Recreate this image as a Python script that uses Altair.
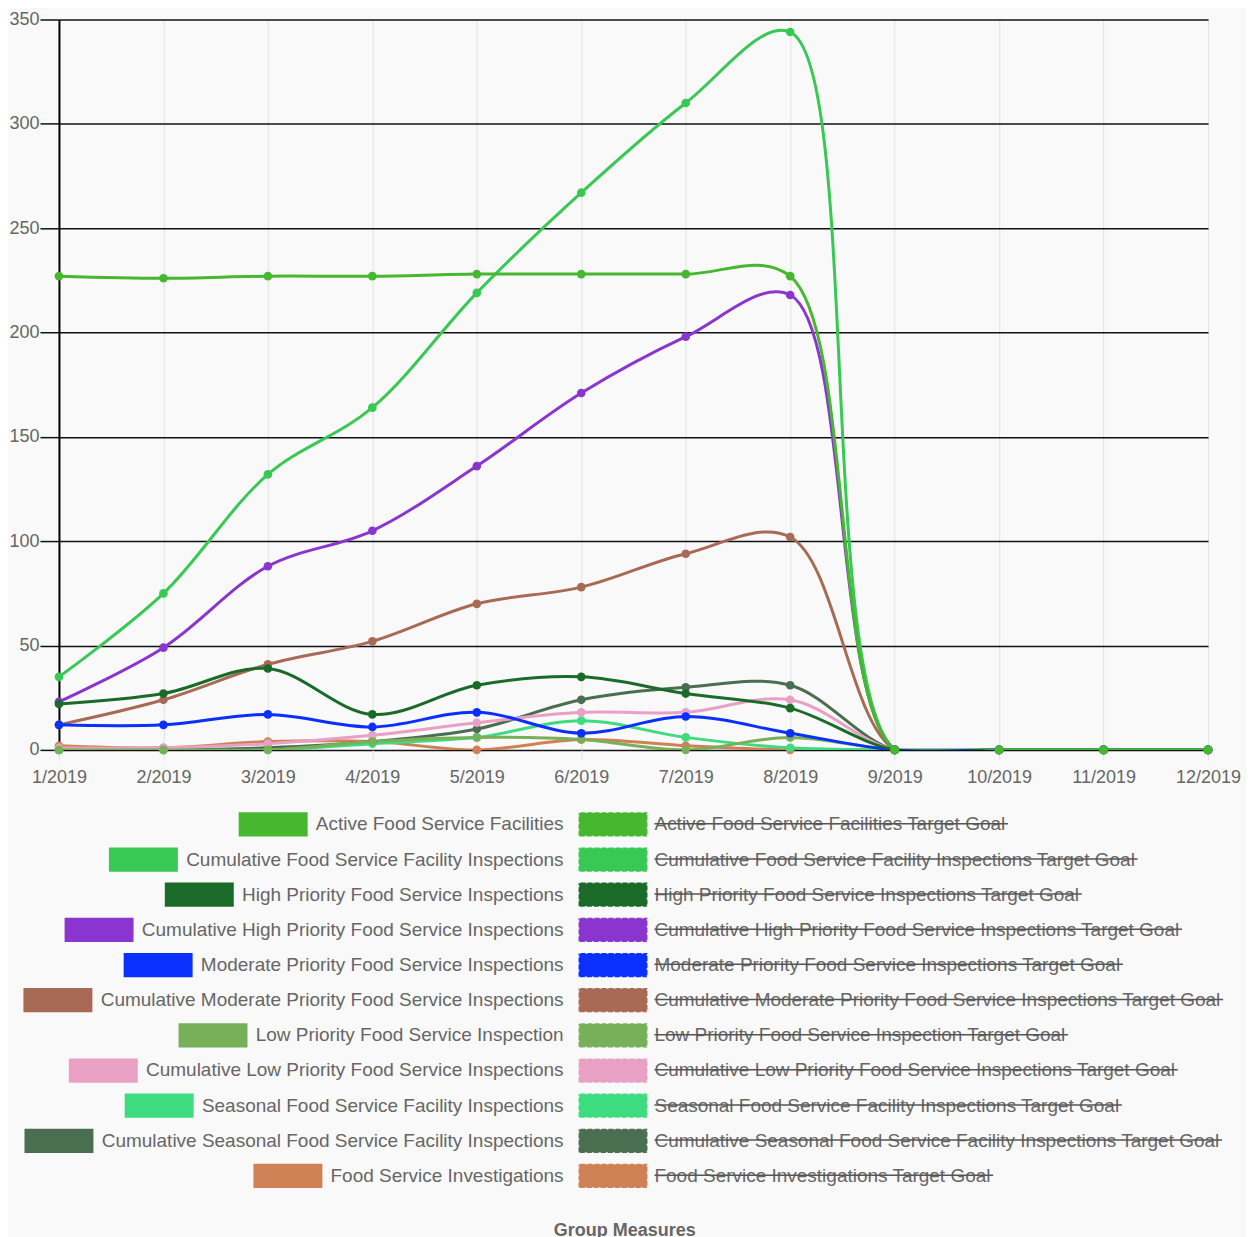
import altair as alt
import pandas as pd

months = ["1/2019", "2/2019", "3/2019", "4/2019", "5/2019", "6/2019",
          "7/2019", "8/2019", "9/2019", "10/2019", "11/2019", "12/2019"]

series_names = [
    "Active Food Service Facilities",
    "Cumulative Food Service Facility Inspections",
    "High Priority Food Service Inspections",
    "Cumulative High Priority Food Service Inspections",
    "Moderate Priority Food Service Inspections",
    "Cumulative Moderate Priority Food Service Inspections",
    "Low Priority Food Service Inspection",
    "Cumulative Low Priority Food Service Inspections",
    "Seasonal Food Service Facility Inspections",
    "Cumulative Seasonal Food Service Facility Inspections",
    "Food Service Investigations",
]
series_colors = ["#45b82f", "#38c954", "#1a6b2a", "#8a35d0", "#0a30ff", "#a86a55",
                 "#78b05a", "#e8a0c4", "#3ddc80", "#4a6e50", "#d08055"]

active = [227, 226, 227, 227, 228, 228, 228, 227, 0, 0, 0, 0]
cum_facility = [35, 75, 132, 164, 219, 267, 310, 344, 0, 0, 0, 0]
high = [22, 27, 39, 17, 31, 35, 27, 20, 0, 0, 0, 0]
cum_high = [23, 49, 88, 105, 136, 171, 198, 218, 0, 0, 0, 0]
moderate = [12, 12, 17, 11, 18, 8, 16, 8, 0, 0, 0, 0]
cum_moderate = [12, 24, 41, 52, 70, 78, 94, 102, 0, 0, 0, 0]
low = [0, 0, 0, 4, 6, 5, 0, 6, 0, 0, 0, 0]
cum_low = [1, 1, 3, 7, 13, 18, 18, 24, 0, 0, 0, 0]
seasonal = [0, 0, 0, 3, 6, 14, 6, 1, 0, 0, 0, 0]
cum_seasonal = [0, 0, 1, 4, 10, 24, 30, 31, 0, 0, 0, 0]
investigations = [2, 1, 4, 4, 0, 5, 2, 0, 0, 0, 0, 0]

series_values = [active, cum_facility, high, cum_high, moderate, cum_moderate,
                 low, cum_low, seasonal, cum_seasonal, investigations]

target_suffix = " Target Goal"
legend_title = "Group Measures"

# ---------- main line chart ----------
rows = []
for name, vals in reversed(list(zip(series_names, series_values))):
    for i, (m, v) in enumerate(zip(months, vals)):
        rows.append({"series": name, "month": m, "idx": i, "value": v})
df = pd.DataFrame(rows)

color_scale = alt.Scale(domain=series_names, range=series_colors)
FONT = "Liberation Sans"

x_enc = alt.X("month:N", sort=months,
              scale=alt.Scale(type="point", padding=0),
              axis=alt.Axis(title=None, labelAngle=0, grid=True, gridColor="#e2e2e2",
                            gridWidth=1, tickColor="#e2e2e2", tickSize=10,
                            labelPadding=9, labelFontSize=18, labelColor="#666",
                            labelFont=FONT, domain=False))
y_enc = alt.Y("value:Q", scale=alt.Scale(domain=[0, 350], nice=False),
              axis=alt.Axis(values=[0, 50, 100, 150, 200, 250, 300, 350], title=None,
                            gridColor="#111", gridWidth=1.5, tickColor="#111",
                            tickWidth=1.5, tickSize=19, labelPadding=1,
                            labelFontSize=18, labelColor="#666", labelFont=FONT,
                            domainColor="#000", domainWidth=2,
                            minExtent=50, maxExtent=50))
c_enc = alt.Color("series:N", scale=color_scale, legend=None)

mbase = alt.Chart(df).encode(x=x_enc, y=y_enc, color=c_enc)
lines = mbase.mark_line(interpolate="catmull-rom", strokeWidth=3, clip=True).encode(
    order=alt.Order("idx:Q"))
points = mbase.mark_circle(size=75, opacity=1)
main = alt.layer(lines, points).properties(width=1150, height=731)

# ---------- custom legend (two columns, right column struck through) ----------
CW = {" ": 278, "A": 667, "C": 722, "F": 611, "G": 778, "H": 722, "I": 278, "L": 556,
      "M": 833, "P": 667, "S": 667, "T": 611, "a": 556, "c": 500, "d": 556, "e": 556,
      "g": 556, "h": 556, "i": 222, "l": 222, "m": 833, "n": 556, "o": 556, "p": 556,
      "r": 333, "s": 500, "t": 278, "u": 556, "v": 500, "w": 722, "y": 500}
FS = 19


def text_w(s):
    return sum(CW.get(c, 556) for c in s) / 1000.0 * FS


LW = 1150
split = 512
sw_w = 69
half_h = 0.345
leg_rows = []
for r, name in enumerate(series_names):
    tname = name + target_suffix
    lt_x = split - 7
    l_sw_x2 = lt_x - text_w(name) - 8
    r_sw_x = split + 8
    r_sw_x2 = r_sw_x + sw_w
    rt_x = r_sw_x2 + 7
    leg_rows.append({
        "row": r, "name": name, "tname": tname,
        "lt_x": lt_x, "l_sw_x": l_sw_x2 - sw_w, "l_sw_x2": l_sw_x2,
        "r_sw_x": r_sw_x, "r_sw_x2": r_sw_x2, "rt_x": rt_x,
        "strike_x2": rt_x + text_w(tname),
        "y1": r - half_h, "y2": r + half_h, "ys": r - 0.02,
    })
ldf = pd.DataFrame(leg_rows)

xs = alt.Scale(domain=[0, LW], nice=False, zero=False)
ys = alt.Scale(domain=[-0.5, len(series_names) - 0.5], reverse=True, nice=False, zero=False)
base = alt.Chart(ldf)
col = alt.Color("name:N", scale=color_scale, legend=None)

l_rect = base.mark_rect().encode(
    x=alt.X("l_sw_x:Q", scale=xs, axis=None), x2="l_sw_x2:Q",
    y=alt.Y("y1:Q", scale=ys, axis=None), y2="y2:Q", color=col)
l_text = base.mark_text(align="right", baseline="middle", fontSize=FS, color="#666",
                        font=FONT).encode(
    x=alt.X("lt_x:Q", scale=xs, axis=None), y=alt.Y("row:Q", scale=ys, axis=None),
    text="name:N")
r_rect = base.mark_rect(stroke="#f4f4f4", strokeWidth=1.5, strokeDash=[2, 5]).encode(
    x=alt.X("r_sw_x:Q", scale=xs, axis=None), x2="r_sw_x2:Q",
    y=alt.Y("y1:Q", scale=ys, axis=None), y2="y2:Q", color=col)
r_text = base.mark_text(align="left", baseline="middle", fontSize=FS, color="#666",
                        font=FONT).encode(
    x=alt.X("rt_x:Q", scale=xs, axis=None), y=alt.Y("row:Q", scale=ys, axis=None),
    text="tname:N")
strike = base.mark_rule(color="#555", strokeWidth=1.5).encode(
    x=alt.X("rt_x:Q", scale=xs, axis=None), x2="strike_x2:Q",
    y=alt.Y("ys:Q", scale=ys, axis=None))

legend = alt.layer(l_rect, l_text, r_rect, r_text, strike).properties(
    width=LW, height=387)

chart = alt.vconcat(main, legend, spacing=20).properties(
    title=alt.TitleParams(legend_title, orient="bottom", anchor="middle",
                          fontSize=18, fontWeight="bold", color="#666", font=FONT,
                          offset=28),
    background="#f9f9f9",
    padding={"left": 0, "top": 2, "right": 5, "bottom": 2},
).configure_view(stroke=None)

chart.save("out.html", embed_options={"renderer": "svg", "actions": False})
